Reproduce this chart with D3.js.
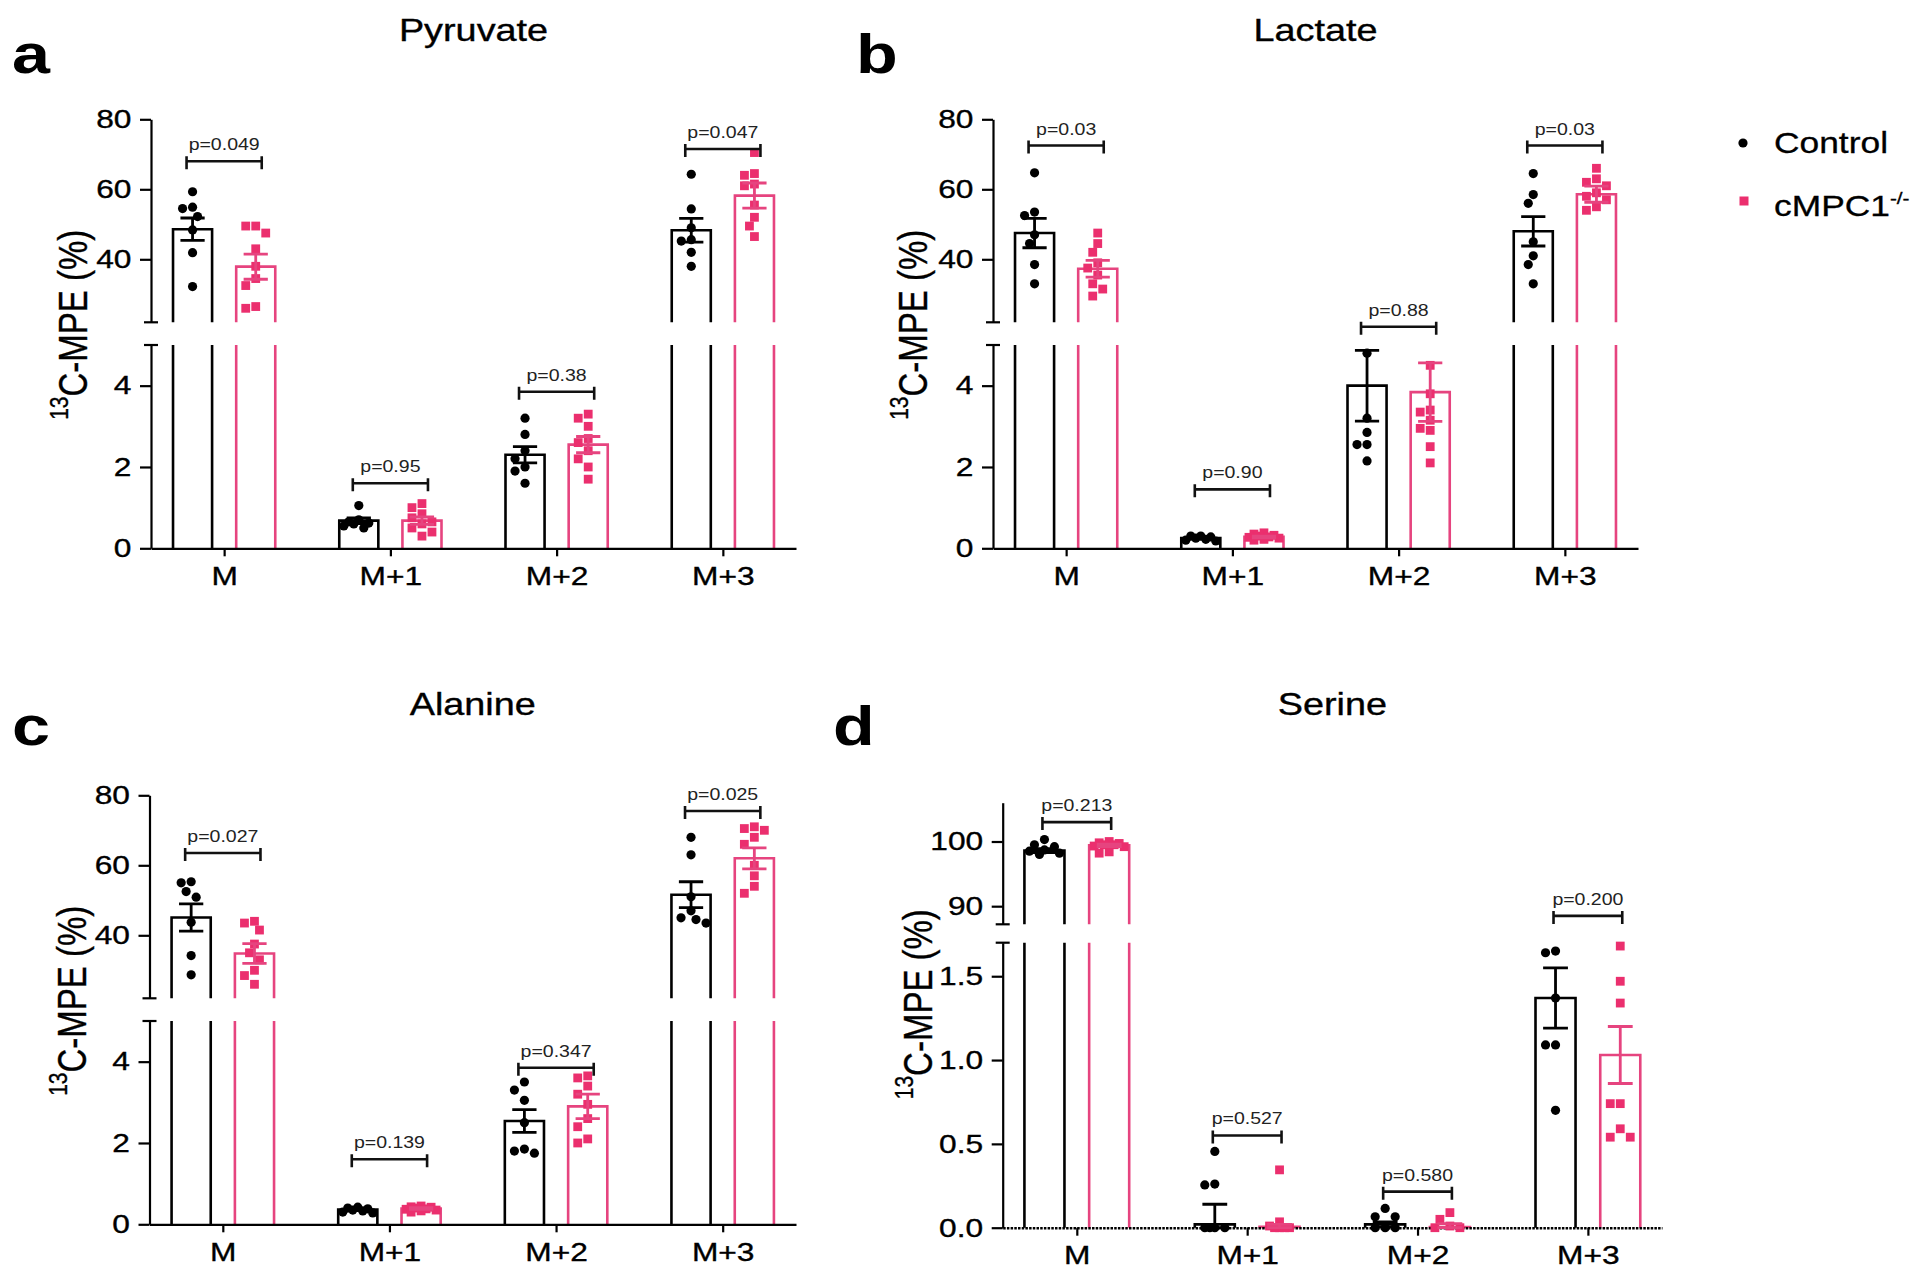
<!DOCTYPE html>
<html><head><meta charset="utf-8">
<script src="https://cdn.jsdelivr.net/npm/d3@7"></script>
<style>body{margin:0;background:#fff} text{font-family:"Liberation Sans",Arial,Helvetica,sans-serif}</style>
</head><body><svg id="c" width="1920" height="1280"></svg>
<script>
// ---------------- DATA ----------------
const categories = ["M", "M+1", "M+2", "M+3"];
const groupNames = ["Control", "cMPC1"];

// Pyruvate
const pyrCtrlMean = [48.6, 0.68, 2.3, 48.3];
const pyrCtrlSem  = [3.2, 0.07, 0.2, 3.4];
const pyrKoMean   = [37.9, 0.68, 2.55, 58.2];
const pyrKoSem    = [3.6, 0.09, 0.2, 3.6];
const pyrCtrlPts  = [[59.3, 54.9, 54.5, 52.2, 48.4, 41.9, 32.2], [1.05, 0.7, 0.65, 0.62, 0.6, 0.55, 0.5], [3.2, 2.8, 2.4, 2.2, 2.0, 1.9, 1.6], [64.3, 54.4, 49, 45.6, 45.2, 42, 38]];
const pyrKoPts    = [[49.5, 49.5, 47.5, 43, 38, 34.5, 32.5, 26.5, 26], [1.1, 1.0, 0.85, 0.75, 0.65, 0.6, 0.5, 0.4, 0.3], [3.3, 3.2, 3.0, 2.7, 2.6, 2.4, 2.2, 2.0, 1.7], [70.5, 64.5, 64, 61.5, 61, 55.5, 52, 49.5, 46.5]];
const pyrP        = ["p=0.049", "p=0.95", "p=0.38", "p=0.047"];
const pyrBracket  = [68, 1.6, 3.85, 71.5];

// Lactate
const lacCtrlMean = [47.5, 0.25, 4.0, 48.0];
const lacCtrlSem  = [4.2, 0.02, 0.87, 4.2];
const lacKoMean   = [37.3, 0.28, 3.84, 58.6];
const lacKoSem    = [2.4, 0.02, 0.72, 2.3];
const lacCtrlPts  = [[64.7, 53.5, 52.5, 47, 44.5, 38.5, 33], [0.3, 0.3, 0.28, 0.25, 0.22, 0.2, 0.18], [4.8, 3.2, 2.85, 2.55, 2.55, 2.15], [64.5, 58.5, 56, 45, 41, 38.5, 33]];
const lacKoPts    = [[47.5, 44.5, 42, 39, 37.5, 35.5, 33, 31.5, 29.5], [0.38, 0.35, 0.32, 0.3, 0.28, 0.27, 0.25, 0.22, 0.2], [4.5, 3.8, 3.4, 3.35, 3.15, 2.95, 2.9, 2.5, 2.1], [66, 63, 62, 61, 59, 58, 57, 55, 54]];
const lacP        = ["p=0.03", "p=0.90", "p=0.88", "p=0.03"];
const lacBracket  = [72.5, 1.45, 5.45, 72.5];

// Alanine
const alaCtrlMean = [45.1, 0.36, 2.54, 51.6];
const alaCtrlSem  = [3.9, 0.02, 0.28, 3.7];
const alaKoMean   = [34.8, 0.39, 2.9, 62.0];
const alaKoSem    = [2.8, 0.02, 0.3, 3.0];
const alaCtrlPts  = [[55.3, 55, 52.5, 50.9, 43.7, 34.2, 28.7], [0.42, 0.4, 0.38, 0.35, 0.33, 0.3, 0.28], [3.5, 3.3, 3.05, 2.5, 1.85, 1.8, 1.75], [68, 63, 51, 47, 45, 44.5, 43.5]];
const alaKoPts    = [[44, 43.5, 41.5, 37.5, 35, 33, 30, 28.5, 26], [0.45, 0.43, 0.42, 0.4, 0.38, 0.37, 0.35, 0.33, 0.3], [3.65, 3.6, 3.4, 3.2, 2.95, 2.6, 2.4, 2.1, 2.0], [71, 70.5, 70, 68, 66, 60, 57, 54, 52]];
const alaP        = ["p=0.027", "p=0.139", "p=0.347", "p=0.025"];
const alaBracket  = [63.5, 1.6, 3.85, 75.5];

// Serine
const serCtrlMean = [98.6, 0.02, 0.02, 1.37];
const serCtrlSem  = [0.3, 0.12, 0.015, 0.18];
const serKoMean   = [99.4, 0.005, 0.004, 1.03];
const serKoSem    = [0.2, 0.015, 0.02, 0.17];
const serCtrlPts  = [[100.3, 99.5, 99.2, 98.7, 98.5, 98.2, 98.0], [0.455, 0.26, 0.255, 0, 0, 0, 0], [0.115, 0.065, 0.065, 0, 0, 0], [1.65, 1.64, 1.37, 1.09, 1.09, 0.70]];
const serKoPts    = [[100, 99.8, 99.7, 99.5, 99.5, 99.3, 99.2, 98.4, 98.2], [0.345, 0.035, 0.01, 0, 0, 0, 0], [0.09, 0.05, 0.01, 0, 0], [1.68, 1.47, 1.34, 0.74, 0.74, 0.59, 0.54, 0.54]];
const serP        = ["p=0.213", "p=0.527", "p=0.580", "p=0.200"];
const serBracket  = [103, 0.55, 0.215, 1.86];

// axis ticks / domains
const stdUpperTicks = [40, 60, 80];
const stdLowerTicks = [0, 2, 4];
const serUpperTicks = [90, 100];
const serLowerTicks = [0, 0.5, 1.0, 1.5];

// ---------------- DRAWING ----------------
const S = 1.22;              // horizontal text stretch of the original figure
const PINK = "#E6447F";
const PINK_PT = "#EB2F6E";
const svg = d3.select("#c");

function stext(g, x, y, str, size, o = {}) {
  const t = g.append("text")
    .attr("transform", `translate(${x},${y}) scale(${S},1)` + (o.rotate ? ` rotate(${o.rotate})` : ""))
    .attr("font-size", size)
    .attr("text-anchor", o.anchor || "middle")
    .attr("fill", o.fill || "#000");
  if (o.weight) t.attr("font-weight", o.weight);
  if (o.baseline) t.attr("dominant-baseline", o.baseline);
  if (o.stroke) t.attr("stroke", o.fill || "#000").attr("stroke-width", o.stroke);
  if (str !== null) t.text(str);
  return t;
}

function styleAxis(ax, dotted) {
  ax.select(".domain").attr("stroke", "#000").attr("stroke-width", 2.2);
  if (dotted) ax.select(".domain").attr("stroke-dasharray", "2.5,1.2").attr("stroke-width", 2.6);
  ax.selectAll(".tick line").attr("stroke", "#000").attr("stroke-width", 2.2);
  ax.selectAll(".tick text").attr("font-size", 26).attr("fill", "#000")
    .attr("stroke", "#000").attr("stroke-width", 0.35)
    .attr("font-family", '"Liberation Sans", Arial, Helvetica, sans-serif')
    .attr("transform", `scale(${S},1)`);
}

function panel(cfg) {
  const g = svg.append("g");
  const L = cfg.lay;
  const x = d3.scalePoint().domain(categories).range([L.x0, L.x1]).padding(L.pad);
  const step = x.step();
  const off = step * 0.19, bw = step * 0.235;
  const yU = d3.scaleLinear().domain(cfg.upDom).range(L.upR);
  const yL = d3.scaleLinear().domain(cfg.loDom).range(L.loR);
  const yv = v => (v >= cfg.upDom[0] ? yU(v) : yL(v));

  // title and letter
  stext(g, (L.x0 + L.x1) / 2, L.titleY, cfg.title, 31, { stroke: 0.35 });
  stext(g, L.letterX, L.letterY, cfg.letter, 56, { anchor: "start", weight: "bold" });

  // y axes
  const axU = g.append("g").attr("transform", `translate(${L.x0},0)`)
    .call(d3.axisLeft(yU).tickValues(cfg.upTicks).tickSize(11).tickSizeOuter(0).tickPadding(5).tickFormat(d3.format("d")));
  styleAxis(axU);
  const axL = g.append("g").attr("transform", `translate(${L.x0},0)`)
    .call(d3.axisLeft(yL).tickValues(cfg.loTicks).tickSize(11).tickSizeOuter(0).tickPadding(5).tickFormat(d3.format(cfg.fmt)));
  styleAxis(axL);
  // break caps
  [yU(cfg.upDom[0]), yL(cfg.loDom[1])].forEach(yy => {
    g.append("line").attr("x1", L.x0 - 7).attr("x2", L.x0 + 7).attr("y1", yy).attr("y2", yy)
      .attr("stroke", "#000").attr("stroke-width", 2.2);
  });

  // y label
  const yl = stext(g, L.x0 - L.ylabDx, (L.upR[1] + L.loR[0]) / 2 - L.ylabDy, null, 33, { rotate: -90, baseline: "central", stroke: 0.3 });
  yl.append("tspan").attr("font-size", 21).attr("dy", -11).text("13");
  yl.append("tspan").attr("dy", 11).text("C-MPE (%)");

  // bars
  function barPath(cx, v) {
    const l = cx - bw / 2, r = cx + bw / 2;
    if (v > cfg.loDom[1]) {
      const top = yL(cfg.loDom[1]), base = yL(0), ub = yU(cfg.upDom[0]);
      return `M${l},${base}V${top}M${r},${base}V${top}M${l},${ub}V${yU(v)}H${r}V${ub}`;
    }
    return `M${l},${yL(0)}V${yL(v)}H${r}V${yL(0)}`;
  }
  const series = [
    { mean: cfg.cm, sem: cfg.cs, pts: cfg.cp, dx: -off, col: "#000", ptCol: "#000", shape: "circle" },
    { mean: cfg.km, sem: cfg.ks, pts: cfg.kp, dx: off, col: PINK, ptCol: PINK_PT, shape: "square" }
  ];
  series.forEach(s => {
    g.append("g").selectAll("path").data(categories).join("path")
      .attr("d", (c, i) => barPath(x(c) + s.dx, s.mean[i]))
      .attr("fill", "none").attr("stroke", s.col).attr("stroke-width", 2.6);
  });

  // x axis
  const axX = g.append("g").attr("transform", `translate(0,${yL(0)})`)
    .call(d3.axisBottom(x).tickSize(8).tickSizeOuter(0).tickPadding(10));
  styleAxis(axX, L.dotted);

  // points (beeswarm confined to the bar width)
  const dia = 10;
  const maxOff = bw / 2 - 3;
  function swarm(vals) {
    const placed = [];
    const arr = vals.map(v => ({ v, y: yv(v) })).sort((a, b) => a.y - b.y);
    const cands = [0];
    for (let k = 1; k * dia / 2 <= maxOff + 0.01; k++) { cands.push(-k * dia / 2, k * dia / 2); }
    arr.forEach(p => {
      let best = 0, bestD = -1;
      for (const c of cands) {
        const dmin = placed.length ? d3.min(placed, q => Math.hypot(q.dx - c, q.y - p.y)) : Infinity;
        if (dmin >= dia * 0.98) { best = c; bestD = Infinity; break; }
        if (dmin > bestD + 0.5) { bestD = dmin; best = c; }
      }
      p.dx = best;
      placed.push(p);
    });
    return arr;
  }
  series.forEach(s => {
    categories.forEach((c, i) => {
      const cx = x(c) + s.dx;
      const sw = swarm(s.pts[i]);
      if (s.shape === "circle") {
        g.append("g").selectAll("circle").data(sw).join("circle")
          .attr("cx", d => cx + d.dx).attr("cy", d => d.y).attr("r", 4.6).attr("fill", s.ptCol);
      } else {
        g.append("g").selectAll("rect").data(sw).join("rect")
          .attr("x", d => cx + d.dx - 4.4).attr("y", d => d.y - 4.4).attr("width", 8.8).attr("height", 8.8).attr("fill", s.ptCol);
      }
    });
  });

  // error bars
  const capW = bw * 0.62;
  series.forEach(s => {
    g.append("g").selectAll("path").data(categories).join("path")
      .attr("d", (c, i) => {
        const cx = x(c) + s.dx;
        const hi = yv(s.mean[i] + s.sem[i]);
        const lo = yv(Math.max(0, s.mean[i] - s.sem[i]));
        return `M${cx},${lo}V${hi}M${cx - capW / 2},${hi}H${cx + capW / 2}M${cx - capW / 2},${lo}H${cx + capW / 2}`;
      })
      .attr("fill", "none").attr("stroke", s.col).attr("stroke-width", 2.8);
  });

  // p-value brackets
  categories.forEach((c, i) => {
    const b = cfg.br[i];
    const by = b >= cfg.upDom[0] ? yU(b) : yL(b);
    const x0 = x(c) - off - L.bext, x1 = x(c) + off + L.bext;
    g.append("path").attr("d", `M${x0},${by - 5}V${by + 8}M${x0},${by}H${x1}M${x1},${by - 5}V${by + 8}`)
      .attr("fill", "none").attr("stroke", "#111").attr("stroke-width", 2.6);
    stext(g, x(c), by - 11, cfg.p[i], 16, { fill: "#222" });
  });
}

const stdCfg = { upDom: [22, 80], loDom: [0, 5], upTicks: stdUpperTicks, loTicks: stdLowerTicks, fmt: "d" };

panel(Object.assign({}, stdCfg, {
  title: "Pyruvate", letter: "a",
  cm: pyrCtrlMean, cs: pyrCtrlSem, km: pyrKoMean, ks: pyrKoSem, cp: pyrCtrlPts, kp: pyrKoPts, p: pyrP, br: pyrBracket,
  lay: { x0: 151, x1: 796, pad: 0.44, upR: [322.3, 119.3], loR: [548.3, 345], bext: 6, titleY: 41, letterX: 12, letterY: 73, ylabDx: 78, ylabDy: 9 }
}));
panel(Object.assign({}, stdCfg, {
  title: "Lactate", letter: "b",
  cm: lacCtrlMean, cs: lacCtrlSem, km: lacKoMean, ks: lacKoSem, cp: lacCtrlPts, kp: lacKoPts, p: lacP, br: lacBracket,
  lay: { x0: 993, x1: 1638, pad: 0.44, upR: [322.3, 119.3], loR: [548.3, 345], bext: 6, titleY: 41, letterX: 856, letterY: 73, ylabDx: 80, ylabDy: 9 }
}));
panel(Object.assign({}, stdCfg, {
  title: "Alanine", letter: "c",
  cm: alaCtrlMean, cs: alaCtrlSem, km: alaKoMean, ks: alaKoSem, cp: alaCtrlPts, kp: alaKoPts, p: alaP, br: alaBracket,
  lay: { x0: 149.5, x1: 796, pad: 0.44, upR: [998.3, 795.3], loR: [1224.3, 1021], bext: 6, titleY: 715, letterX: 12, letterY: 745, ylabDx: 78, ylabDy: 9 }
}));
panel({
  upDom: [87.2, 106], loDom: [0, 1.7], upTicks: serUpperTicks, loTicks: serLowerTicks, fmt: ".1f",
  title: "Serine", letter: "d",
  cm: serCtrlMean, cs: serCtrlSem, km: serKoMean, ks: serKoSem, cp: serCtrlPts, kp: serKoPts, p: serP, br: serBracket,
  lay: { x0: 1002.7, x1: 1662, pad: 0.435, upR: [924.3, 802.7], loR: [1227.7, 942.7], bext: 2, titleY: 715, letterX: 833, letterY: 745, ylabDx: 85, ylabDy: 11, dotted: true }
});

// legend
const lg = svg.append("g");
lg.append("circle").attr("cx", 1743).attr("cy", 143).attr("r", 4.6).attr("fill", "#000");
stext(lg, 1774, 153, groupNames[0], 29, { anchor: "start", stroke: 0.3 });
lg.append("rect").attr("x", 1739.5).attr("y", 196.5).attr("width", 9).attr("height", 9).attr("fill", PINK_PT);
const t2 = stext(lg, 1774, 216, null, 29, { anchor: "start", stroke: 0.3 });
t2.append("tspan").text(groupNames[1]);
t2.append("tspan").attr("font-size", 17).attr("dy", -12).text("-/-");
</script></body></html>
